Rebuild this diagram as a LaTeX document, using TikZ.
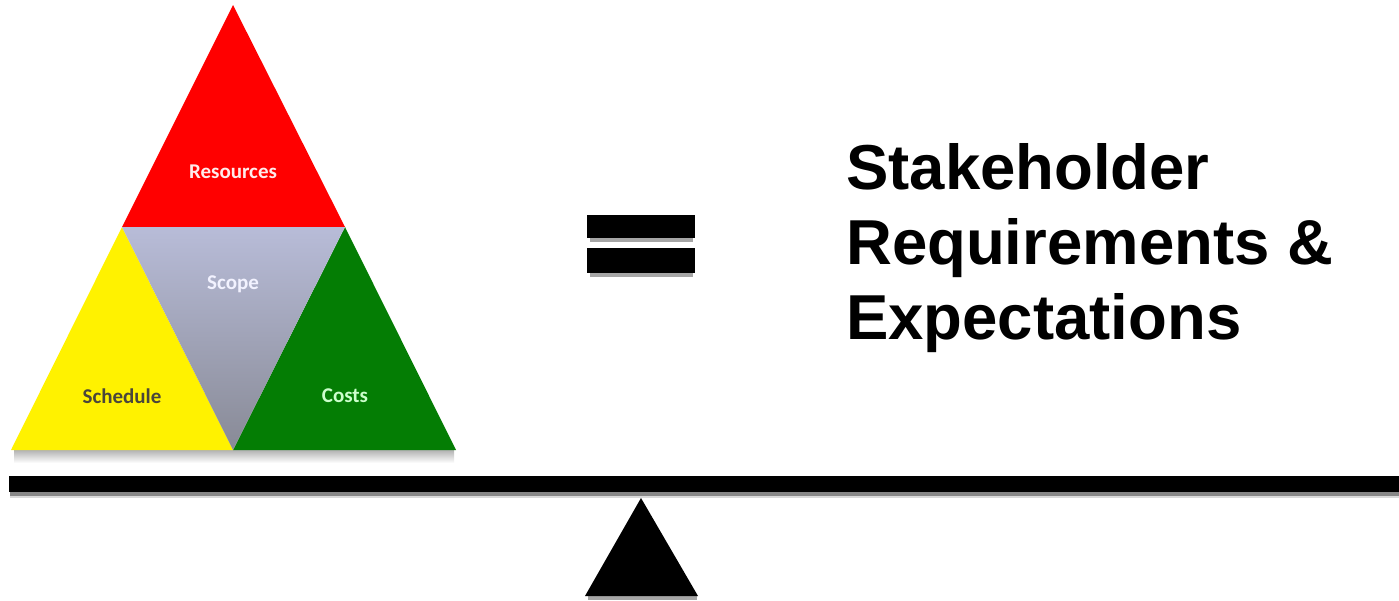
\documentclass[tikz,border=0pt]{standalone}
\usepackage{fontspec}
\setmainfont{Liberation Sans}
\newfontfamily\calibri{Carlito}
\usetikzlibrary{positioning}

\definecolor{costgreen}{RGB}{4,125,4}
\definecolor{scopetop}{RGB}{184,188,216}
\definecolor{scopebot}{RGB}{136,138,150}

\begin{document}
\begin{tikzpicture}[x=1pt,y=-1pt,
	piecelabel/.style={font=\calibri\bfseries\fontsize{21}{21}\selectfont,inner sep=0},
	barshadow/.style={fill=black!35}]
	\useasboundingbox (0,0) rectangle (1399,600);
	% corners of the triangle
	\coordinate (top) at (233,5);
	\coordinate (ml) at (122,227);
	\coordinate (mr) at (345,227);
	\coordinate (bl) at (11,450);
	\coordinate (bm) at (233,450);
	\coordinate (br) at (456,450);
	% soft shadow under the triangle
	\shade[top color=black!30,bottom color=white] (14,450) rectangle (454,463);
	\fill[red] (top) -- (ml) -- (mr) -- cycle;
	\fill[yellow] (ml) -- (bl) -- (bm) -- cycle;
	\fill[costgreen] (mr) -- (bm) -- (br) -- cycle;
	\shade[top color=scopetop,bottom color=scopebot] (ml) -- (mr) -- (bm) -- cycle;
	\node[piecelabel,text=red!8] (resources) at (233,172) {Resources};
	\node[piecelabel,text=blue!5] (scope) at (233,284) {Scope};
	\node[piecelabel,text=black!82!yellow] (schedule) at (122,396) {Schedule};
	\node[piecelabel,text=green!20] (costs) at (345,396) {Costs};
	% equals sign
	\fill[barshadow] (590,219) rectangle (693,242);
	\fill (587,215) rectangle (695,238);
	\fill[barshadow] (590,252) rectangle (693,277);
	\fill (587,248) rectangle (695,273);
	% beam and fulcrum
	\fill[black!15] (10,480) rectangle (1399,498);
	\fill[black!47] (10,480) rectangle (1399,496);
	\fill (9,476) rectangle (1399,492);
	\coordinate (ftop) at (641,498);
	\coordinate (fleft) at (585,596);
	\coordinate (fright) at (698,596);
	\fill[barshadow] (588,596) rectangle (697,600);
	\fill (ftop) -- (fleft) -- (fright) -- cycle;
	% right hand text
	\node[anchor=north west,align=left,inner sep=0,
		font=\bfseries\fontsize{63.5}{75}\selectfont] (stake) at (846,143)
		{Stakeholder\\Requirements \&\\Expectations};
\end{tikzpicture}
\end{document}
